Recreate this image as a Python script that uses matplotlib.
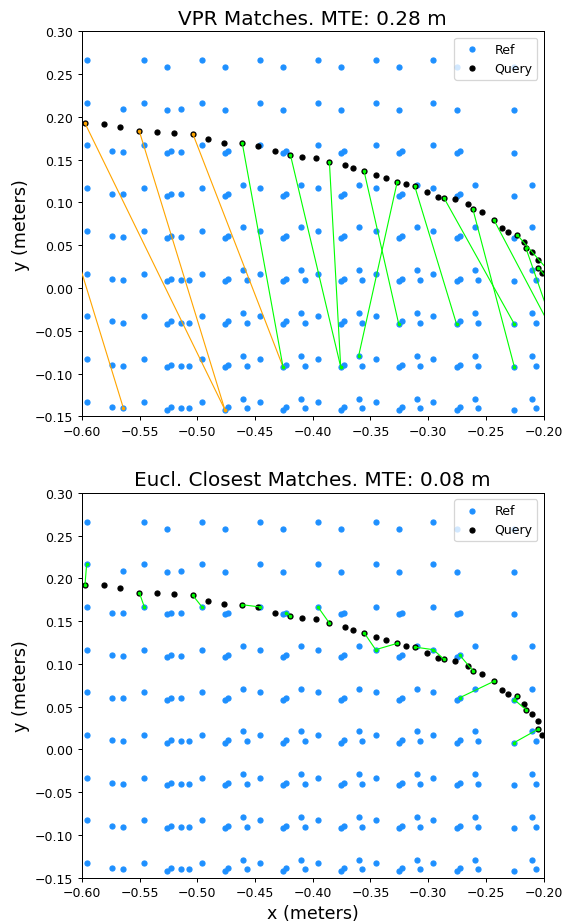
import itertools

import matplotlib
matplotlib.use("Agg")
from matplotlib import pyplot as plt

# reference database: column x positions and row y positions per sweep group
ref_a_x = [-0.596, -0.546, -0.496, -0.446, -0.3955, -0.3455, -0.2955]
ref_a_y = [0.2665, 0.2166, 0.1666, 0.1166, 0.0666, 0.0168, -0.0331, -0.0830, -0.1332]
ref_e_x = [-0.5262, -0.4762, -0.4258, -0.3758, -0.3255, -0.2754, -0.2253]
ref_e_y = [0.258, 0.208, 0.158, 0.108, 0.058, 0.008, -0.042, -0.092, -0.142]
ref_b_x = [-0.5737, -0.5233, -0.4733, -0.4229, -0.3729, -0.3225, -0.2725]
ref_b_y = [0.160, 0.110, 0.0605, 0.0106, -0.039, -0.0895, -0.139]
ref_c_x = [-0.5641, -0.5141]
ref_c_y = [0.209, 0.1594, 0.1096, 0.0597, 0.0094, -0.0404, -0.0906, -0.1404]
ref_f_x = [-0.4605, -0.4102, -0.3602, -0.3098, -0.2597, -0.2096]
ref_f_y = [0.1208, 0.071, 0.021, -0.029, -0.079, -0.129]
ref_d_x = [-0.5074, -0.457, -0.407, -0.357, -0.3069, -0.2569, -0.2065]
ref_d_y = [0.0094, -0.0404, -0.0906, -0.1404]

# query trajectory
query_x = [-0.640, -0.5974, -0.5809, -0.5667, -0.5503, -0.5352, -0.5207, -0.5039,
           -0.4906, -0.477, -0.4611, -0.4475, -0.4327, -0.4194, -0.4093, -0.3969,
           -0.3856, -0.3723, -0.365, -0.3555, -0.3448, -0.3361, -0.3268, -0.319,
           -0.3118, -0.3008, -0.2916, -0.2864, -0.2765, -0.2655, -0.2612, -0.2536,
           -0.243, -0.2357, -0.2305, -0.2227, -0.2166, -0.2152, -0.2099, -0.2044,
           -0.2044, -0.2012]
query_y = [0.193, 0.1925, 0.192, 0.1882, 0.1832, 0.1824, 0.1812, 0.180,
           0.1738, 0.170, 0.1692, 0.166, 0.1598, 0.1558, 0.1535, 0.152,
           0.1477, 0.1434, 0.140, 0.1364, 0.1318, 0.1283, 0.124, 0.1213,
           0.1197, 0.1123, 0.1068, 0.1056, 0.1037, 0.0979, 0.092, 0.0886,
           0.0796, 0.0698, 0.0652, 0.062, 0.0535, 0.0465, 0.0418, 0.0332,
           0.0238, 0.0173]

match_idx = [0, 1, 4, 7, 10, 13, 16, 19, 22, 24, 27, 30, 32, 35, 37, 40]

vpr_ref_x = [-0.5641, -0.4762, -0.4762, -0.4258, -0.4258, -0.3758, -0.3758, -0.3255,
             -0.3602, -0.2754, -0.2253, -0.2253, -0.157, -0.1565, -0.18, -0.1645]
vpr_ref_y = [-0.1404, -0.142, -0.142, -0.092, -0.092, -0.092, -0.092, -0.042,
             -0.079, -0.042, -0.042, -0.092, -0.14, -0.0404, -0.09, -0.0404]
vpr_correct = [False, False, False, False, True, True, True, True,
               True, True, True, True, True, True, True, True]

eucl_ref_x = [-0.646, -0.596, -0.546, -0.496, -0.446, -0.4229, -0.3955, -0.3455,
              -0.3455, -0.2955, -0.2955, -0.2725, -0.2725, -0.2253, -0.2253, -0.2253]
eucl_ref_y = [0.2166, 0.2166, 0.1666, 0.1666, 0.1666, 0.160, 0.1666, 0.1166,
              0.1166, 0.1166, 0.1166, 0.110, 0.0605, 0.058, 0.058, 0.008]
eucl_correct = [True] * len(match_idx)

titles = ["VPR Matches. MTE: 0.28 m", "Eucl. Closest Matches. MTE: 0.08 m"]


def ref_points():
    xs, ys = [], []
    groups = [(ref_a_x, ref_a_y), (ref_e_x, ref_e_y), (ref_b_x, ref_b_y),
              (ref_c_x, ref_c_y), (ref_f_x, ref_f_y), (ref_d_x, ref_d_y)]
    for gx, gy in groups:
        for x, y in itertools.product(gx, gy):
            xs.append(x)
            ys.append(y)
    return xs, ys


def draw_matches(ax, title, mx, my, correct, xlabel=False):
    rx, ry = ref_points()
    ax.scatter(rx, ry, s=16, color="dodgerblue", label="Ref", zorder=2)
    ax.scatter(query_x, query_y, s=16, color="black", label="Query", zorder=3)
    for i, qi in enumerate(match_idx):
        col = "lime" if correct[i] else "orange"
        ax.plot([query_x[qi], mx[i]], [query_y[qi], my[i]], "-o", color=col,
                lw=0.9, markersize=1.8, zorder=4)
    ax.set_xlim(-0.6, -0.2)
    ax.set_ylim(-0.15, 0.30)
    ax.set_title(title, fontsize=16)
    ax.set_ylabel("y (meters)", fontsize=14)
    if xlabel:
        ax.set_xlabel("x (meters)", fontsize=14)
    ax.tick_params(labelsize=10)
    ax.legend(loc="upper right", fontsize=10)


fig = plt.figure(figsize=(564 / 90, 922 / 90), dpi=90)
ax_top = fig.add_axes([0.1454, 0.5472, 0.8183, 0.4178])
ax_bot = fig.add_axes([0.1454, 0.0471, 0.8183, 0.4172])

draw_matches(ax_top, titles[0], vpr_ref_x, vpr_ref_y, vpr_correct)
draw_matches(ax_bot, titles[1], eucl_ref_x, eucl_ref_y, eucl_correct, xlabel=True)

fig.savefig("out.png", dpi=90)
